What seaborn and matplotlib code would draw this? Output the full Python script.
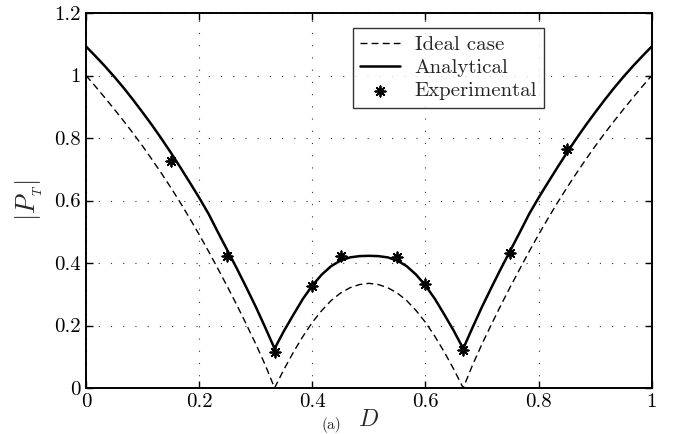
import numpy as np
import pandas as pd
import matplotlib
matplotlib.use("Agg")
import matplotlib.pyplot as plt
import seaborn as sns

D = [0.0, 0.0167, 0.0333, 0.05, 0.0667, 0.0833, 0.1, 0.1167, 0.1333, 0.15,
     0.1667, 0.1833, 0.2, 0.2167, 0.2333, 0.25, 0.2667, 0.2833, 0.3, 0.3167,
     0.3333, 0.35, 0.3667, 0.3833, 0.4, 0.4167, 0.4333, 0.45, 0.4667, 0.4833,
     0.5, 0.5167, 0.5333, 0.55, 0.5667, 0.5833, 0.6, 0.6167, 0.6333, 0.65,
     0.6667, 0.6833, 0.7, 0.7167, 0.7333, 0.75, 0.7667, 0.7833, 0.8, 0.8167,
     0.8333, 0.85, 0.8667, 0.8833, 0.9, 0.9167, 0.9333, 0.95, 0.9667, 0.9833,
     1.0]

ideal = [1.0, 0.965, 0.929, 0.892, 0.854, 0.815, 0.774, 0.731, 0.687, 0.641,
         0.593, 0.543, 0.491, 0.437, 0.381, 0.324, 0.265, 0.204, 0.141, 0.074,
         0.0, 0.06, 0.115, 0.165, 0.21, 0.248, 0.28, 0.304, 0.321, 0.331,
         0.335, 0.331, 0.321, 0.304, 0.28, 0.248, 0.21, 0.165, 0.115, 0.06,
         0.0, 0.074, 0.141, 0.204, 0.265, 0.324, 0.381, 0.437, 0.491, 0.543,
         0.593, 0.641, 0.687, 0.731, 0.774, 0.815, 0.854, 0.892, 0.929, 0.965,
         1.0]

analytical = [1.093, 1.062, 1.03, 0.996, 0.96, 0.922, 0.882, 0.841, 0.798, 0.753,
              0.706, 0.658, 0.609, 0.557, 0.498, 0.44, 0.382, 0.322, 0.26, 0.194,
              0.126, 0.183, 0.235, 0.285, 0.328, 0.363, 0.39, 0.408, 0.418, 0.422,
              0.423, 0.422, 0.418, 0.408, 0.39, 0.363, 0.328, 0.285, 0.235, 0.183,
              0.126, 0.194, 0.26, 0.322, 0.382, 0.44, 0.498, 0.557, 0.609, 0.658,
              0.706, 0.753, 0.798, 0.841, 0.882, 0.922, 0.96, 0.996, 1.03, 1.062,
              1.093]

D_exp = [0.15, 0.25, 0.3333, 0.4, 0.45, 0.55, 0.6, 0.6667, 0.75, 0.85]
P_exp = [0.726, 0.423, 0.115, 0.328, 0.422, 0.418, 0.333, 0.12, 0.433, 0.764]

xticks = [0, 0.2, 0.4, 0.6, 0.8, 1]
xtick_labels = ["0", "0.2", "0.4", "0.6", "0.8", "1"]
yticks = [0, 0.2, 0.4, 0.6, 0.8, 1, 1.2]
ytick_labels = ["0", "0.2", "0.4", "0.6", "0.8", "1", "1.2"]

curves = pd.DataFrame({"D": D, "ideal": ideal, "analytical": analytical})
points = pd.DataFrame({"D": D_exp, "P": P_exp})

# Style

sns.set_style("ticks")
plt.rcParams["font.family"] = ["cmr10", "DejaVu Serif"]
plt.rcParams["mathtext.fontset"] = "cm"
plt.rcParams["axes.formatter.use_mathtext"] = True
plt.rcParams["axes.unicode_minus"] = False

fig = plt.figure(figsize=(6.8, 4.34), dpi=100)
ax = fig.add_axes([0.1265, 0.106, 0.832, 0.864])

sns.lineplot(data=curves, x="D", y="ideal", ax=ax, color="black",
             linewidth=1.0, label="Ideal case")
ax.lines[-1].set_linestyle((0, (5, 3)))
sns.lineplot(data=curves, x="D", y="analytical", ax=ax, color="black",
             linewidth=1.8, label="Analytical")
sns.scatterplot(data=points, x="D", y="P", ax=ax, marker=(8, 2, 0),
                s=55, color="black", linewidth=1.3, label="Experimental",
                zorder=5)

ax.set_xlim(0, 1)
ax.set_ylim(0, 1.2)
ax.set_xticks(xticks)
ax.set_xticklabels(xtick_labels)
ax.set_yticks(yticks)
ax.set_yticklabels(ytick_labels)
ax.tick_params(direction="in", length=5, width=1.0, top=True, right=True,
               labelsize=15, pad=4, colors="black")
ax.grid(True, color="#333333", linestyle=(0, (1, 10)), linewidth=0.8)
for sp in ax.spines.values():
    sp.set_linewidth(1.4)
    sp.set_color("black")

ax.set_xlabel(r"$D$", fontsize=17, labelpad=-2)
ax.set_ylabel(r"$|P_{_T}|$", fontsize=19, labelpad=6)

leg = ax.legend(loc="upper left", bbox_to_anchor=(0.472, 0.96), fontsize=15,
                frameon=True, fancybox=False, edgecolor="black",
                handlelength=1.9, handletextpad=0.7, borderpad=0.35,
                labelspacing=0.22, borderaxespad=0)
leg.get_frame().set_linewidth(1.0)

# panel label, only its top shows in the reference; keep it fully inside
fig.text(0.487, 0.002, "(a)", fontsize=11, ha="center", va="bottom")

fig.savefig("out.png", dpi=100)
